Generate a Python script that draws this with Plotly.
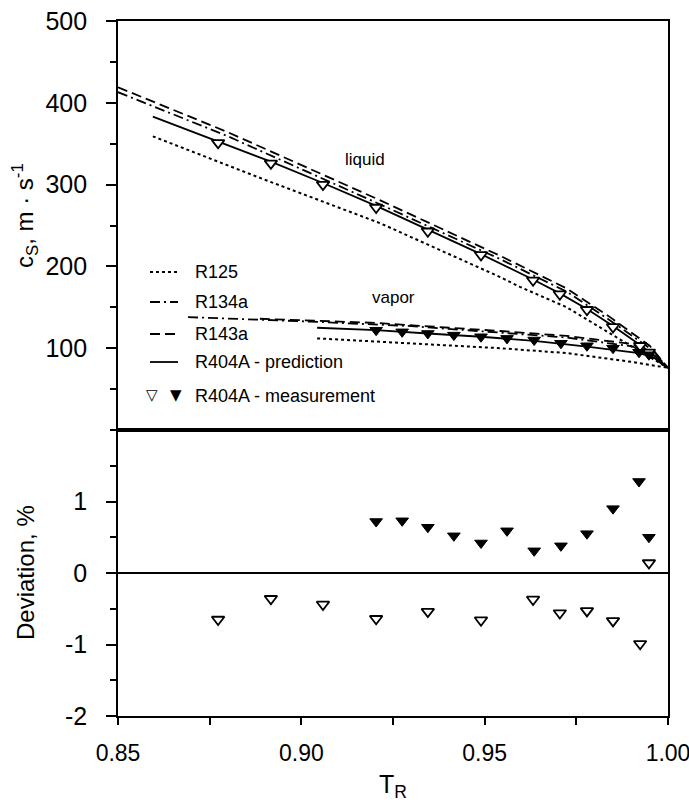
import plotly.graph_objects as go
from plotly.subplots import make_subplots

# ---------------- data ----------------
# Liquid branch curves
T_r125_liq = [0.8595, 0.8900, 0.9214, 0.9542, 0.9596, 0.9724, 0.9905, 1.0]
c_r125_liq = [359, 306, 253, 187, 175, 150, 101, 76]
T_r134a_liq = [0.85, 0.88, 0.9214, 0.9542, 0.9724, 0.9842, 0.995, 1.0]
c_r134a_liq = [413, 359, 276, 209, 169, 134, 100, 76]
T_r143a_liq = [0.85, 0.88, 0.9214, 0.9542, 0.9724, 0.9842, 0.995, 1.0]
c_r143a_liq = [419, 364, 281, 213, 173, 138, 103, 76]
T_pred_liq = [0.8595, 0.8773, 0.8917, 0.9059, 0.9204, 0.9345, 0.9490, 0.9632,
              0.9705, 0.9779, 0.9850, 0.9924, 0.9960, 1.0]
c_pred_liq = [383, 353, 328, 302, 274, 245, 215, 184, 167, 148, 127, 104, 92, 76]

# Vapor branch curves
T_r125_vap = [0.9043, 0.9542, 0.9724, 0.9905, 1.0]
c_r125_vap = [112, 100, 94, 83, 76]
T_r134a_vap = [0.8691, 0.90, 0.93, 0.9542, 0.9724, 0.9905, 1.0]
c_r134a_vap = [138, 133, 127, 119, 113, 102, 76]
T_r143a_vap = [0.8887, 0.92, 0.9542, 0.9724, 0.9905, 1.0]
c_r143a_vap = [136, 131, 121, 115, 105, 76]
T_pred_vap = [0.9043, 0.9204, 0.9345, 0.9490, 0.9635, 0.9779, 0.9921, 0.9960, 1.0]
c_pred_vap = [125, 122, 118, 114, 109, 102, 94, 89, 76]

# Measurements R404A
T_meas_liq = [0.8773, 0.8917, 0.9059, 0.9204, 0.9345, 0.9490, 0.9632, 0.9705,
              0.9779, 0.9850, 0.9924, 0.9948]
c_meas_liq = [351, 326, 300, 272, 243, 214, 183, 166, 147, 126, 103, 95]
dev_meas_liq = [-0.65, -0.36, -0.44, -0.64, -0.54, -0.66, -0.37, -0.56,
                -0.53, -0.67, -0.99, 0.14]

T_meas_vap = [0.9204, 0.9275, 0.9345, 0.9416, 0.9490, 0.9561, 0.9635, 0.9708,
              0.9779, 0.9850, 0.9921, 0.9948]
c_meas_vap = [122, 120, 118, 116, 114, 112, 110, 106, 103, 100, 95, 92]
dev_meas_vap = [0.72, 0.73, 0.64, 0.52, 0.42, 0.59, 0.31, 0.38, 0.55, 0.90, 1.28, 0.50]

x_tickvals = [0.85, 0.90, 0.95, 1.00]
x_ticktext = ["0.85", "0.90", "0.95", "1.00"]
y1_tickvals = [100, 200, 300, 400, 500]
y1_ticktext = ["100", "200", "300", "400", "500"]
y2_tickvals = [-2, -1, 0, 1]
y2_ticktext = ["-2", "-1", "0", "1"]

legend_names = ["R125", "R134a", "R143a", "R404A - prediction", "R404A - measurement"]

# ---------------- styles ----------------
FONT = "Liberation Sans, Arial, Helvetica, sans-serif"
DOT = dict(color="black", width=2, dash="dot")
DASHDOT = dict(color="black", width=1.8, dash="10px,4px,2px,4px")
DASH = dict(color="black", width=1.8, dash="10px,5px")
SOLID = dict(color="black", width=1.8)
PAD = "\u00a0\u00a0"  # gap between y tick labels and the axis

fig = make_subplots(rows=2, cols=1, shared_xaxes=True, vertical_spacing=0,
                    row_heights=[409 / 695, 286 / 695])

curves = [
    (T_r125_liq, c_r125_liq, DOT), (T_r125_vap, c_r125_vap, DOT),
    (T_r134a_liq, c_r134a_liq, DASHDOT), (T_r134a_vap, c_r134a_vap, DASHDOT),
    (T_r143a_liq, c_r143a_liq, DASH), (T_r143a_vap, c_r143a_vap, DASH),
    (T_pred_liq, c_pred_liq, SOLID), (T_pred_vap, c_pred_vap, SOLID),
]
for tx, cy, ln in curves:
    fig.add_trace(go.Scatter(x=tx, y=cy, mode="lines", line=ln, showlegend=False,
                             hoverinfo="skip"), row=1, col=1)

open_marker = dict(symbol="triangle-down", size=11, color="white",
                   line=dict(color="black", width=1.8))
filled_marker = dict(symbol="triangle-down", size=11, color="black",
                     line=dict(color="black", width=1))

fig.add_trace(go.Scatter(x=T_meas_liq, y=c_meas_liq, mode="markers", marker=open_marker,
                         showlegend=False), row=1, col=1)
fig.add_trace(go.Scatter(x=T_meas_vap, y=c_meas_vap, mode="markers", marker=filled_marker,
                         showlegend=False), row=1, col=1)
fig.add_trace(go.Scatter(x=T_meas_liq, y=dev_meas_liq, mode="markers", marker=open_marker,
                         showlegend=False), row=2, col=1)
fig.add_trace(go.Scatter(x=T_meas_vap, y=dev_meas_vap, mode="markers", marker=filled_marker,
                         showlegend=False), row=2, col=1)

axis_common = dict(showline=True, mirror=True, linecolor="black", linewidth=2,
                   showgrid=False, zeroline=False)

fig.update_xaxes(range=[0.85, 1.0], **axis_common)
fig.update_xaxes(ticks="", showticklabels=False, row=1, col=1)
fig.update_xaxes(tickvals=x_tickvals, ticktext=x_ticktext, ticks="outside", ticklen=7,
                 tickwidth=2, tickcolor="black",
                 minor=dict(tickvals=[0.875, 0.925, 0.975], ticks="outside", ticklen=7,
                            tickwidth=2, tickcolor="black"),
                 tickfont=dict(family=FONT, size=23, color="black"),
                 ticklabeloverflow="allow",
                 ticklabelstandoff=8, row=2, col=1)

fig.update_yaxes(range=[0, 500], tickvals=y1_tickvals,
                 ticktext=[t + PAD for t in y1_ticktext], ticks="outside", ticklen=10,
                 tickwidth=2, tickcolor="black",
                 minor=dict(dtick=50, tick0=0, ticks="outside", ticklen=6, tickwidth=2,
                            tickcolor="black"),
                 tickfont=dict(family=FONT, size=25, color="black"),
                 row=1, col=1, **axis_common)
axis_common2 = dict(axis_common)
axis_common2["zeroline"] = True
fig.update_yaxes(range=[-2, 2], tickvals=y2_tickvals,
                 ticktext=[t + PAD for t in y2_ticktext],
                 ticks="outside", ticklen=10, tickwidth=2, tickcolor="black",
                 minor=dict(dtick=0.5, tick0=0, ticks="outside", ticklen=6, tickwidth=2,
                            tickcolor="black"),
                 tickfont=dict(family=FONT, size=25, color="black"),
                 zerolinecolor="black", zerolinewidth=2,
                 row=2, col=1, **axis_common2)

# ---------------- layout helpers (pixel -> paper) ----------------
L, R, T, B = 118, 668, 21, 716


def px(x):
    return (x - L) / (R - L)


def py(y):
    return (B - y) / (B - T)


def note(x, y, text, size, xanchor="center", angle=0, family=FONT):
    return dict(x=px(x), y=py(y), xref="paper", yref="paper", text=text,
                xanchor=xanchor, yanchor="middle", textangle=angle, showarrow=False,
                font=dict(family=family, size=size, color="black"))


annotations = [
    note(25, 216, "c<sub>S</sub>, m · s<sup>-1</sup>", 24, angle=-90),
    note(25, 573, "Deviation, %", 24, angle=-90),
    note(393, 786, "T<sub>R</sub>", 25),
    note(365, 160, "liquid", 17),
    note(393, 297, "vapor", 17),
]

# manual legend
rows_y = [272, 302, 334, 362, 396]
shapes = []
for yy, ln in zip(rows_y[:4], [DOT, DASHDOT, DASH, SOLID]):
    shapes.append(dict(type="line", xref="paper", yref="paper",
                       x0=px(150), x1=px(178), y0=py(yy), y1=py(yy), line=ln))
for yy, name in zip(rows_y, legend_names):
    annotations.append(note(193, yy, name, 18, xanchor="left"))
annotations.append(note(152, 395, "▽", 15, family="DejaVu Sans"))
annotations.append(note(176, 395, "▼", 15, family="DejaVu Sans"))

fig.update_layout(width=689, height=802,
                  margin=dict(l=L, r=689 - R, t=T, b=802 - B, autoexpand=False),
                  plot_bgcolor="white", paper_bgcolor="white",
                  showlegend=False, annotations=annotations, shapes=shapes,
                  font=dict(family=FONT, color="black"))

fig.write_html("out.html", config={"displayModeBar": False},
               post_script="document.body.style.margin='0';document.body.style.padding='0';")
